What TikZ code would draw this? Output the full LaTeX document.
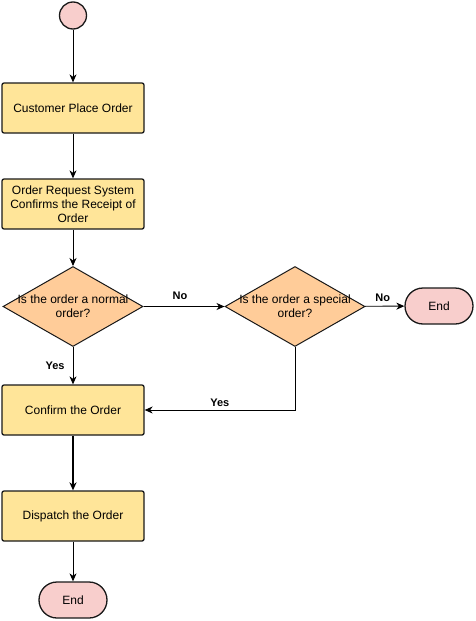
\documentclass[tikz,border=0pt]{standalone}
\usepackage{fontspec}
\setmainfont{Liberation Sans}
\usetikzlibrary{arrows.meta,shapes.geometric}
\definecolor{boxfill}{HTML}{FFE599}
\definecolor{diafill}{HTML}{FFCC99}
\definecolor{endfill}{HTML}{F8CECC}
\begin{document}
\begin{tikzpicture}[x=1pt,y=-1pt,
  font=\fontsize{12}{14}\selectfont,
  box/.style={draw=black!90, line width=1.3pt, fill=boxfill, rounded corners=2pt,
    minimum width=142pt, minimum height=50pt, align=center, inner sep=2pt},
  dia/.style={draw=black!90, line width=1pt, fill=diafill, diamond, aspect=1.75,
    minimum width=140pt, minimum height=80pt, inner sep=0pt, align=center},
  term/.style={draw=black!90, line width=1.3pt, fill=endfill, rounded corners=18pt,
    minimum width=68pt, minimum height=36pt, align=center},
  arr/.style={draw=black, line width=0.9pt, -{Stealth[length=8pt,width=7pt,inset=2.5pt]}},
  lbl/.style={font=\fontsize{11}{13}\selectfont\bfseries, inner sep=0pt},
  txt/.style={align=center, inner sep=0pt}]
\useasboundingbox (0,0) rectangle (475,621);
\node[circle, draw=black!90, line width=1.3pt, fill=endfill, minimum size=27pt, inner sep=0pt] (start) at (73,15.5) {};
\node[box] (b1) at (73,108) {Customer Place Order};
\node[box] (b2) at (73,204) {Order Request System\\Confirms the Receipt of\\Order};
\node[dia] (d1) at (73,306.5) {};
\node[txt] (t1) at (73,306.5) {Is the order a normal\\order?};
\node[dia] (d2) at (295,306.5) {};
\node[txt] (t2) at (295,306.5) {Is the order a special\\order?};
\node[term] (e1) at (439,306) {End};
\node[box] (b3) at (73,410) {Confirm the Order};
\node[box] (b4) at (73,516) {Dispatch the Order};
\node[term] (e2) at (73,600) {End};
\draw[arr] (start) -- (b1);
\draw[arr] (b1) -- (b2);
\draw[arr] (b2) -- (d1);
\draw[arr] (d1) -- node[lbl, pos=0.5, left=8pt] {Yes} (b3);
\draw[arr] (d1) -- node[lbl, above=6pt, pos=0.45] {No} (d2);
\draw[arr] (d2) -- node[lbl, above=4pt, pos=0.45] {No} (e1);
\draw[arr] (d2.south) |- node[lbl, above=3pt, pos=0.75] {Yes} (b3.east);
\draw[arr, line width=1.4pt] (b3) -- (b4);
\draw[arr] (b4) -- (e2);
\end{tikzpicture}
\end{document}
